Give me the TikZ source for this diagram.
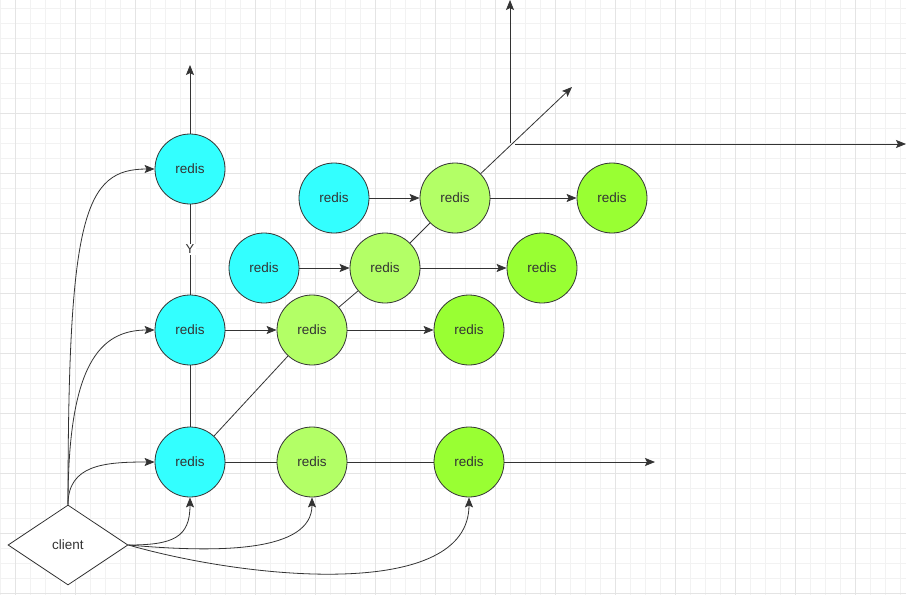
\documentclass[tikz,border=0pt]{standalone}
\usepackage{fontspec}
\setmainfont{Liberation Sans}
\usetikzlibrary{shapes.geometric,arrows.meta}
\definecolor{cyanfill}{HTML}{33FFFF}
\definecolor{lgreen}{HTML}{B3FF66}
\definecolor{bgreen}{HTML}{99FF33}
\definecolor{edge}{HTML}{333333}
\definecolor{gridminor}{HTML}{F2F2F2}
\definecolor{gridmajor}{HTML}{E4E4E4}
\tikzset{
  redisnode/.style={circle, draw=edge, line width=0.8pt, minimum size=70pt, inner sep=0pt, text=edge, font=\fontsize{13.5}{15}\selectfont},
  cyannode/.style={redisnode, fill=cyanfill},
  lgnode/.style={redisnode, fill=lgreen},
  bgnode/.style={redisnode, fill=bgreen},
  clientnode/.style={diamond, draw=edge, line width=0.8pt, fill=white, minimum width=120pt, minimum height=80pt, inner sep=0pt, text=edge, font=\fontsize{13.5}{15}\selectfont},
  conn/.style={draw=edge, line width=0.8pt},
  arr/.style={conn, -{Stealth[length=10pt,width=8pt,inset=2pt]}},
  lbl/.style={fill=white, inner sep=1.5pt, text=edge, font=\fontsize{13}{14}\selectfont}
}
\begin{document}
\begin{tikzpicture}[x=1pt,y=-1pt]
\useasboundingbox (0,0) rectangle (906,595);
\fill[white] (0,0) rectangle (906,595);
% grid
\foreach \gx in {0,15,...,906} \draw[gridminor, line width=0.8pt] (\gx,0) -- (\gx,595);
\foreach \gy in {8,23,...,595} \draw[gridminor, line width=0.8pt] (0,\gy) -- (906,\gy);
\foreach \gx in {15,75,...,906} \draw[gridmajor, line width=0.8pt] (\gx,0) -- (\gx,595);
\foreach \gy in {53,113,...,595} \draw[gridmajor, line width=0.8pt] (0,\gy) -- (906,\gy);

% nodes
\node[cyannode] (c1) at (190,169) {redis};
\node[cyannode] (c2) at (190,330) {redis};
\node[cyannode] (c3) at (190,462) {redis};
\node[cyannode] (c4) at (264,268) {redis};
\node[cyannode] (c5) at (334,198) {redis};
\node[lgnode] (g1) at (312,330) {redis};
\node[lgnode] (g2) at (385,268) {redis};
\node[lgnode] (g3) at (455,198) {redis};
\node[lgnode] (g4) at (312,462) {redis};
\node[bgnode] (b1) at (469,330) {redis};
\node[bgnode] (b2) at (542,268) {redis};
\node[bgnode] (b3) at (612,198) {redis};
\node[bgnode] (b4) at (469,462) {redis};
\node[clientnode] (cl) at (68,545) {client};

% free ends
\coordinate (c1top) at (190,65);
\coordinate (diagend) at (572,87);
\coordinate (b4end) at (655,462);
\coordinate (vaxb) at (510,143);
\coordinate (vaxt) at (510,0);
\coordinate (haxl) at (515,144);
\coordinate (haxr) at (906,144);

% connectors
\draw[arr] (c1.north) -- (c1top);
\draw[conn] (c2.north) -- node[lbl] {Y} (c1.south);
\draw[conn] (c3.north) -- (c2.south);
\draw[conn] (c3) -- (g1);
\draw[conn] (g1) -- (g2);
\draw[conn] (g2) -- (g3);
\draw[arr] (g3) -- (diagend);
\draw[arr] (vaxb) -- (vaxt);
\draw[arr] (haxl) -- (haxr);

\draw[arr] (c2.east) -- (g1.west);
\draw[arr] (g1.east) -- (b1.west);
\draw[arr] (c4.east) -- (g2.west);
\draw[arr] (g2.east) -- (b2.west);
\draw[arr] (c5.east) -- (g3.west);
\draw[arr] (g3.east) -- (b3.west);
\draw[conn] (c3.east) -- (g4.west);
\draw[conn] (g4.east) -- (b4.west);
\draw[arr] (b4.east) -- (b4end);

% client curves
\draw[arr] (cl.north) .. controls +(0,-290) and +(-70,0) .. (c1.west);
\draw[arr] (cl.north) .. controls +(0,-140) and +(-55,0) .. (c2.west);
\draw[arr] (cl.north) .. controls +(0,-40) and +(-50,0) .. (c3.west);
\draw[arr] (cl.east) .. controls +(45,0) and +(0,40) .. (c3.south);
\draw[arr] (cl.east) .. controls +(90,8) and +(0,55) .. (g4.south);
\draw[arr] (cl.east) .. controls +(122,35) and +(0,103) .. (b4.south);
\end{tikzpicture}
\end{document}
